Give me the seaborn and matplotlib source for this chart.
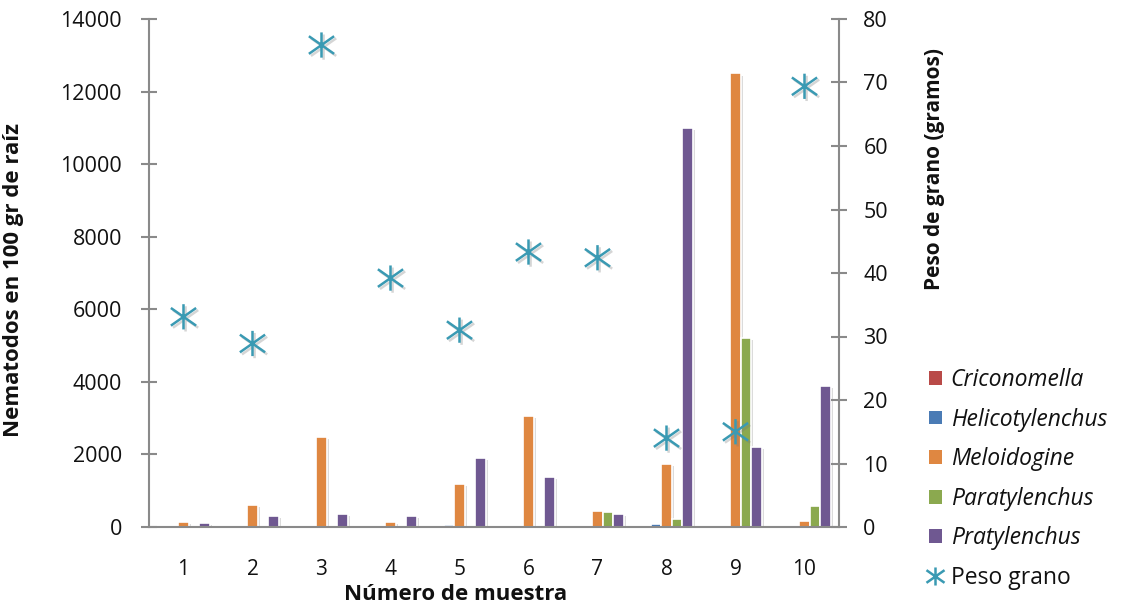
import numpy as np
import pandas as pd
import matplotlib
matplotlib.use("Agg")
import matplotlib.pyplot as plt
import matplotlib.patheffects as pe
from matplotlib.path import Path
from matplotlib.patches import Patch
from matplotlib.lines import Line2D
import seaborn as sns

# --- data -------------------------------------------------------------
muestras = ["1", "2", "3", "4", "5", "6", "7", "8", "9", "10"]
especies = ["Criconomella", "Helicotylenchus", "Meloidogine", "Paratylenchus", "Pratylenchus"]
criconomella = [0, 0, 0, 0, 0, 0, 10, 0, 0, 0]
helicotylenchus = [0, 0, 0, 0, 50, 0, 10, 75, 0, 0]
meloidogine = [150, 620, 2480, 140, 1180, 3050, 440, 1750, 12500, 170]
paratylenchus = [0, 0, 0, 0, 0, 0, 420, 210, 5200, 570]
pratylenchus = [100, 310, 350, 300, 1900, 1380, 370, 11000, 2200, 3880]
peso_grano = [33.1, 28.9, 75.9, 39.2, 31.0, 43.3, 42.4, 14.0, 15.0, 69.4]

colores = ["#B94A48", "#4A7BB5", "#DF8741", "#8BA94F", "#6F5891"]
color_peso = "#3A9AB3"

df = pd.DataFrame({
    "Muestra": muestras * len(especies),
    "Especie": np.repeat(especies, len(muestras)),
    "Nematodos": criconomella + helicotylenchus + meloidogine + paratylenchus + pratylenchus,
})

# --- style ------------------------------------------------------------
sns.set_theme(style="white")
plt.rcParams["font.family"] = ["Open Sans", "DejaVu Sans"]
gris = "#8A8A8A"
texto = "#111111"

fig = plt.figure(figsize=(11.29, 6.07), dpi=100)
ax = fig.add_axes([149 / 1129, 1 - 527 / 607, (839 - 149) / 1129, (527 - 19) / 607])

sombra = [pe.SimplePatchShadow(offset=(1.5, -1.5), shadow_rgbFace="#999999", alpha=0.35), pe.Normal()]

sns.barplot(data=df, x="Muestra", y="Nematodos", hue="Especie", order=muestras,
            hue_order=especies, palette=colores, width=0.76, ax=ax,
            edgecolor="white", linewidth=1.2, legend=False, saturation=1)
for p in ax.patches:
    p.set_path_effects(sombra)

ax.set_xlim(-0.5, len(muestras) - 0.5)
ax.set_ylim(0, 14000)
ax.set_yticks(np.arange(0, 14001, 2000))
ax.set_xlabel("Número de muestra", fontsize=16, fontweight="bold", color=texto)
ax.set_ylabel("Nematodos en 100 gr de raíz", fontsize=16, fontweight="bold", color=texto)
ax.xaxis.set_label_coords((456 - 149) / 690, (527 - 605) / 508)
ax.yaxis.set_label_coords((24 - 149) / 690, (527 - 280) / 508)
ax.xaxis.label.set_va("bottom")

# category separators as minor ticks on the x axis
ax.set_xticks(np.arange(-0.5, len(muestras)), minor=True)
ax.tick_params(axis="x", which="major", length=0, labelsize=15, labelcolor=texto, pad=23)
ax.tick_params(axis="x", which="minor", direction="inout", length=12, width=1.5, color=gris)
ax.tick_params(axis="y", direction="inout", length=11, width=1.5, color=gris,
               labelsize=15.5, labelcolor=texto, pad=14, left=True)

for s in ["top", "right"]:
    ax.spines[s].set_visible(False)
for s in ["left", "bottom"]:
    ax.spines[s].set_color(gris)
    ax.spines[s].set_linewidth(1.5)

# --- grain weight on the secondary axis --------------------------------
ax2 = ax.twinx()
asterisco = Path(
    [(0, -1), (0, 1), (-1, -0.7), (1, 0.7), (-1, 0.7), (1, -0.7)],
    [Path.MOVETO, Path.LINETO, Path.MOVETO, Path.LINETO, Path.MOVETO, Path.LINETO],
)
sns.scatterplot(x=np.arange(len(muestras)), y=peso_grano, ax=ax2, marker=asterisco,
                s=330, color=color_peso, edgecolor=color_peso, linewidth=1.8,
                legend=False, zorder=5)
for c in ax2.collections:
    c.set_facecolor("none")
    c.set_edgecolor(color_peso)
    c.set_path_effects([pe.SimpleLineShadow(offset=(1.5, -1.5), shadow_color="#777777", alpha=0.3),
                        pe.Normal()])
ax2.set_ylim(0, 80)
ax2.set_yticks(np.arange(0, 81, 10))
ax2.set_ylabel("Peso de grano (gramos)", fontsize=15, fontweight="bold", color=texto)
ax2.yaxis.set_label_coords((924 - 149) / 690, (527 - 169) / 508)
ax2.tick_params(axis="y", direction="inout", length=11, width=1.5, color=gris,
                labelsize=15.5, labelcolor=texto, pad=12, right=True)
ax2.grid(False)
for s in ["top", "left", "bottom"]:
    ax2.spines[s].set_visible(False)
ax2.spines["right"].set_color(gris)
ax2.spines["right"].set_linewidth(1.5)

# --- legend -----------------------------------------------------------
handles = [Patch(facecolor=c, edgecolor="none") for c in colores]
handles.append(Line2D([], [], linestyle="none", marker=asterisco, markersize=13,
                      markeredgewidth=1.8, color=color_peso))
etiquetas = especies + ["Peso grano"]
leg = fig.legend(handles, etiquetas, loc="upper left", bbox_to_anchor=(929 / 1129, 1 - 368 / 607),
                 frameon=False, fontsize=16.5, handlelength=0.55, handleheight=0.55,
                 handletextpad=0.4, labelspacing=0.68, borderaxespad=0, borderpad=0)
for t in leg.get_texts()[:-1]:
    t.set_fontstyle("italic")
for t in leg.get_texts():
    t.set_color(texto)

fig.savefig("out.png", dpi=100)
